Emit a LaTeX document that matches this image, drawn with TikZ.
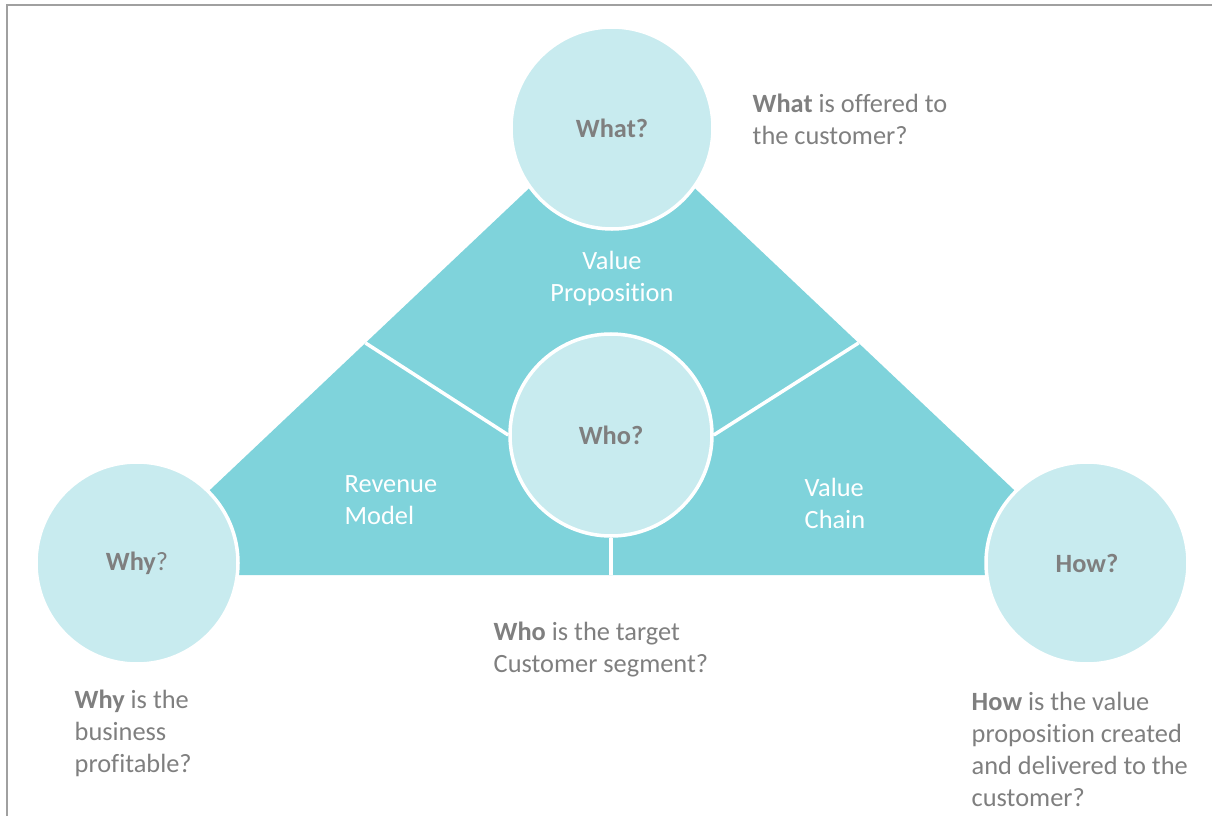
\documentclass[tikz,border=0pt]{standalone}
\usepackage{fontspec}
\setmainfont[Ligatures=NoCommon]{Carlito}
\definecolor{trifill}{RGB}{127,211,219}
\definecolor{ballfill}{RGB}{200,235,239}
\definecolor{txtgray}{RGB}{127,127,127}
\definecolor{framegray}{RGB}{160,160,160}
\begin{document}
\begin{tikzpicture}[
  ball/.style={circle,fill=ballfill,draw=white,line width=1pt,minimum size=2.02cm,inner sep=0pt,text=txtgray,font=\fontsize{7.5}{9.1}\selectfont\bfseries},
  note/.style={anchor=west,align=left,inner sep=0pt,text=txtgray,font=\fontsize{7.5}{9.1}\selectfont},
  part/.style={inner sep=0pt,text=white,font=\fontsize{7.5}{9.1}\selectfont},
  cut/.style={draw=white,line width=1pt}]
\useasboundingbox (0,0) rectangle (12.12,8.16);
\draw[framegray,line width=0.6pt] (0.07,0) |- (12.12,8.11);
\fill[trifill] (1.20,2.41) -- (6.12,7.06) -- (11.04,2.41) -- cycle;
\node[ball] (what) at (6.12,6.88) {What?};
\node[ball] (who) at (6.11,3.81) {Who?};
\node[ball] (why) at (1.37,2.53) {Why{\mdseries ?}};
\node[ball] (how) at (10.87,2.53) {How?};
\coordinate (lcut) at (3.655,4.73);
\coordinate (rcut) at (8.585,4.73);
\coordinate (bcut) at (6.11,2.41);
\draw[cut] (lcut) -- (who.west);
\draw[cut] (rcut) -- (who.east);
\draw[cut] (who.south) -- (bcut);
\node[part,align=center] (vp) at (6.12,5.38) {Value\\Proposition};
\node[part,align=left,anchor=west] (rm) at (3.44,3.16) {Revenue\\Model};
\node[part,align=left,anchor=west] (vc) at (8.04,3.13) {Value\\Chain};
\node[note] (whatq) at (7.52,6.97) {\textbf{What} is offered to\\the customer?};
\node[note] (whoq) at (4.93,1.66) {\textbf{Who} is the target\\Customer segment?};
\node[note] (whyq) at (0.74,0.83) {\textbf{Why} is the\\business\\profitable?};
\node[note] (howq) at (9.71,0.67) {\textbf{How} is the value\\proposition created\\and delivered to the\\customer?};
\end{tikzpicture}
\end{document}
